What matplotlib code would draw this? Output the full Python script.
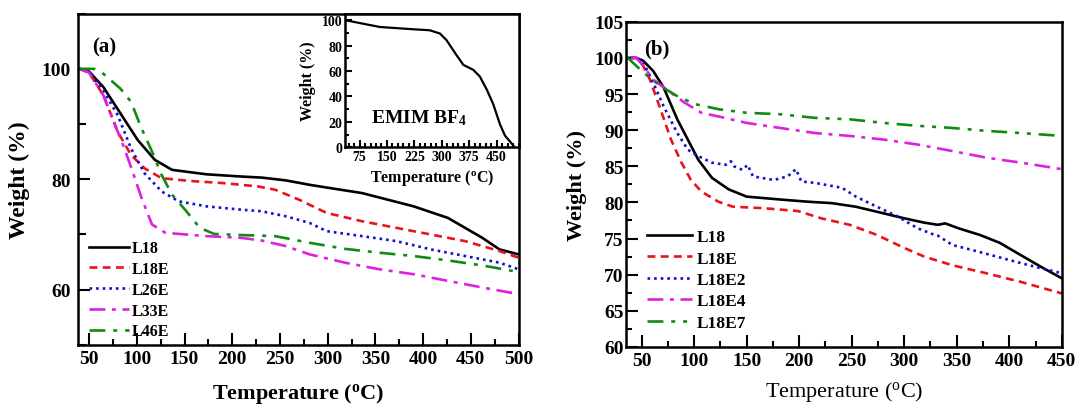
import numpy as np
import matplotlib.pyplot as plt
from matplotlib.ticker import MultipleLocator

plt.rcParams['font.family'] = 'Liberation Serif'
plt.rcParams['mathtext.default'] = 'regular'

# (a) TGA curves of the blends
temp_a_L18 = [40, 50, 65, 83, 101, 119, 137, 155, 173, 209, 231, 256, 281, 299, 336, 354, 390, 426, 462, 480, 500]
w_a_L18 = [100, 99.5, 96.7, 91.9, 87.1, 83.5, 81.7, 81.3, 80.9, 80.5, 80.3, 79.8, 79.0, 78.5, 77.5, 76.7, 75.1, 73.0, 69.4, 67.3, 66.4]

temp_a_L18E = [40, 50, 65, 80, 94, 108, 126, 155, 191, 227, 245, 270, 299, 336, 372, 408, 444, 480, 500]
w_a_L18E = [100, 99.3, 95.2, 88.6, 84.4, 82.0, 80.2, 79.7, 79.3, 78.7, 78.1, 76.3, 73.9, 72.4, 71.2, 70.0, 68.8, 67.0, 65.8]

temp_a_L26E = [40, 50, 65, 80, 94, 108, 126, 144, 173, 209, 231, 256, 281, 299, 336, 372, 408, 444, 480, 500]
w_a_L26E = [100, 99.4, 96.1, 91.6, 85.6, 81.1, 77.8, 76.0, 75.1, 74.5, 74.2, 73.3, 72.1, 70.6, 69.7, 68.8, 67.3, 66.1, 64.9, 63.7]

temp_a_L33E = [40, 50, 65, 76, 87, 98, 105, 116, 130, 173, 209, 231, 256, 281, 318, 354, 390, 426, 462, 500]
w_a_L33E = [100, 99.3, 95.2, 90.4, 85.6, 80.2, 76.6, 71.8, 70.3, 69.7, 69.4, 68.9, 67.9, 66.4, 64.9, 63.7, 62.8, 61.6, 60.4, 59.2]

temp_a_L46E = [40, 55, 65, 83, 94, 105, 116, 126, 137, 152, 166, 181, 209, 245, 281, 318, 354, 390, 426, 462, 500]
w_a_L46E = [100, 100, 99.1, 96.4, 94.0, 89.2, 85.0, 80.8, 77.2, 74.2, 71.2, 70.1, 69.9, 69.7, 68.5, 67.4, 66.7, 66.1, 65.3, 64.4, 63.2]

# inset: ionic liquid alone
temp_emim = [38, 84, 130, 221, 267, 295, 313, 340, 359, 386, 404, 423, 441, 459, 473, 496]
w_emim = [100, 97.4, 94.8, 93.0, 92.2, 89.6, 84.4, 72.7, 64.9, 61.0, 55.8, 45.5, 33.8, 18.2, 9.1, 1.3]

# (b) TGA curves, L18 with increasing EMIM BF4
temp_b_L18 = [37, 45, 51.6, 61, 71, 84, 94, 104, 117, 133, 150, 182, 208, 231, 254, 280, 300, 319, 332, 339, 352, 372, 391, 411, 430, 450]
w_b_L18 = [100, 100, 99.6, 98.2, 95.9, 91.5, 88.7, 85.9, 83.4, 81.8, 80.8, 80.4, 80.1, 79.9, 79.4, 78.5, 77.8, 77.2, 76.9, 77.1, 76.4, 75.5, 74.4, 72.7, 71.1, 69.5]

temp_b_L18E = [40, 45, 51.6, 58, 68, 78, 88, 97, 107, 123, 137, 166, 199, 221, 248, 274, 300, 319, 346, 378, 411, 450]
w_b_L18E = [100, 100, 98.9, 97.0, 92.9, 88.7, 85.5, 83.1, 81.5, 80.1, 79.4, 79.2, 78.8, 77.8, 76.9, 75.5, 73.7, 72.5, 71.3, 70.2, 69.0, 67.4]

temp_b_L18E2 = [40, 45, 51.6, 61, 71, 84, 94, 104, 117, 130, 135, 138, 146, 151, 156, 176, 189, 197, 202, 215, 234, 241, 254, 274, 293, 313, 329, 332, 346, 365, 388, 411, 430, 450]
w_b_L18E2 = [100, 100, 99.4, 96.6, 93.3, 89.6, 87.3, 86.4, 85.5, 85.2, 85.7, 85.0, 84.5, 85.2, 83.6, 83.1, 83.6, 84.6, 82.9, 82.7, 82.2, 82.0, 80.8, 79.4, 78.1, 76.4, 75.5, 75.4, 74.1, 73.4, 72.5, 71.6, 70.9, 70.2]

temp_b_L18E4 = [40, 45, 51.6, 61, 74, 91, 107, 123, 150, 182, 215, 248, 280, 313, 346, 378, 411, 450]
w_b_L18E4 = [100, 100, 98.9, 97.0, 95.6, 93.8, 92.4, 91.9, 91.0, 90.3, 89.6, 89.2, 88.7, 88.0, 87.1, 86.2, 85.5, 84.6]

temp_b_L18E7 = [37, 42, 51.6, 68, 84, 101, 123, 150, 182, 215, 248, 280, 313, 346, 378, 411, 450]
w_b_L18E7 = [100, 99.3, 98.0, 96.1, 94.7, 93.6, 92.9, 92.4, 92.2, 91.7, 91.5, 91.0, 90.6, 90.3, 89.9, 89.6, 89.2]

lw = 1.9

fig = plt.figure(figsize=(10.78, 4.06), dpi=100)
ax1 = fig.add_axes([0.072, 0.148, 0.409, 0.816])
ax2 = fig.add_axes([0.581, 0.143, 0.404, 0.801])
axin = fig.add_axes([0.320, 0.635, 0.161, 0.328])

def style_axes(ax, tick_size):
    for sp in ax.spines.values():
        sp.set_linewidth(1.8)
    ax.tick_params(which='both', direction='in', width=1.5, top=False, right=False,
                   labelsize=tick_size)
    ax.tick_params(which='major', length=8.5)
    ax.tick_params(which='minor', length=4.5)
    ax.tick_params(axis='x', pad=4)
    for lab in ax.get_xticklabels() + ax.get_yticklabels():
        lab.set_fontweight('bold')

# ---- (a) ----
ax1.plot(temp_a_L18, w_a_L18, color='black', lw=lw, label='L18')
ax1.plot(temp_a_L18E, w_a_L18E, color='#e8141c', lw=lw, ls=(0, (3, 2)), label='L18E')
ax1.plot(temp_a_L26E, w_a_L26E, color='#1010d0', lw=lw, ls=(0, (1, 1.5)), label='L26E')
ax1.plot(temp_a_L33E, w_a_L33E, color='#e020e0', lw=lw, ls=(0, (6, 2.5, 1.5, 2.5)), label='L33E')
ax1.plot(temp_a_L46E, w_a_L46E, color='#108a10', lw=lw, ls=(0, (6, 3, 1.5, 3)), label='L46E')
ax1.set_xlim(38, 500)
ax1.set_ylim(50, 110)
ax1.xaxis.set_major_locator(MultipleLocator(50))
ax1.xaxis.set_minor_locator(MultipleLocator(25))
ax1.yaxis.set_minor_locator(MultipleLocator(10))
ax1.set_yticks([60, 80, 100])
style_axes(ax1, 14)
ax1.tick_params(axis='y', which='minor', length=6)
ax1.tick_params(axis='y', pad=5)
ax1.set_xlabel('Temperature ($^{o}$C)', fontsize=16, fontweight='bold', labelpad=10)
ax1.set_ylabel('Weight (%)', fontsize=17, fontweight='bold', labelpad=8)
ax1.text(0.032, 0.93, '(a)', transform=ax1.transAxes, fontsize=15, fontweight='bold', va='top')
ax1.legend(loc='upper left', bbox_to_anchor=(0.0, 0.35), frameon=False,
           prop=dict(family='Liberation Serif', weight='bold', size=11.5),
           handlelength=2.5, handletextpad=0.2, labelspacing=0.3, borderaxespad=0.3)

# inset
axin.plot(temp_emim, w_emim, color='black', lw=1.6)
axin.set_xlim(35, 510)
axin.set_ylim(0, 105)
axin.xaxis.set_minor_locator(MultipleLocator(15))
axin.yaxis.set_major_locator(MultipleLocator(20))
axin.yaxis.set_minor_locator(MultipleLocator(10))
axin.set_xticks([75, 150, 225, 300, 375, 450])
style_axes(axin, 10)
axin.tick_params(which='major', length=5, pad=2)
axin.tick_params(which='minor', length=3)
axin.set_xlabel('Temperature ($^{o}$C)', fontsize=11.5, fontweight='bold', labelpad=3)
axin.set_ylabel('Weight (%)', fontsize=11.5, fontweight='bold', labelpad=4)
axin.text(0.15, 0.19, 'EMIM BF$_4$', transform=axin.transAxes, fontsize=14, fontweight='bold')

# ---- (b) ----
ax2.plot(temp_b_L18, w_b_L18, color='black', lw=lw, label='L18')
ax2.plot(temp_b_L18E, w_b_L18E, color='#e8141c', lw=lw, ls=(0, (3, 2)), label='L18E')
ax2.plot(temp_b_L18E2, w_b_L18E2, color='#1010d0', lw=lw, ls=(0, (1, 1.5)), label='L18E2')
ax2.plot(temp_b_L18E4, w_b_L18E4, color='#e020e0', lw=lw, ls=(0, (6, 2.5, 1.5, 2.5)), label='L18E4')
ax2.plot(temp_b_L18E7, w_b_L18E7, color='#108a10', lw=lw, ls=(0, (6, 3, 1.5, 3, 1.5, 3)), label='L18E7')
ax2.set_xlim(35.5, 450)
ax2.set_ylim(60, 105)
ax2.xaxis.set_minor_locator(MultipleLocator(25))
ax2.yaxis.set_major_locator(MultipleLocator(5))
ax2.yaxis.set_minor_locator(MultipleLocator(2.5))
ax2.set_xticks(range(50, 451, 50))
style_axes(ax2, 14)
ax2.tick_params(axis='y', pad=2)
ax2.set_xlabel('Temperature ($^{o}$C)', fontsize=16, labelpad=7)
ax2.set_ylabel('Weight (%)', fontsize=16, fontweight='bold', labelpad=5)
ax2.text(0.04, 0.95, '(b)', transform=ax2.transAxes, fontsize=15, fontweight='bold', va='top')
ax2.legend(loc='upper left', bbox_to_anchor=(0.02, 0.4), frameon=False,
           prop=dict(family='Liberation Serif', weight='bold', size=12.5),
           handlelength=2.6, handletextpad=0.25, labelspacing=0.3, borderaxespad=0.3)

fig.savefig('out.png', dpi=100, facecolor='white')
